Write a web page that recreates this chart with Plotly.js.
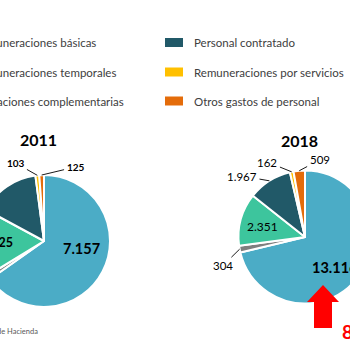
<!DOCTYPE html>
<html><head><meta charset="utf-8">
<script src="https://cdn.plot.ly/plotly-3.0.1.min.js"></script>
<style>
html,body{margin:0;padding:0;overflow:hidden;width:350px;height:350px;background:#fff}
#wrap{position:absolute;left:-35px;top:0;width:420px;height:350px}
</style>
</head><body><div id="wrap"></div>
<script>
// ---------- DATA ----------
const categories = ['Remuneraciones básicas','Remuneraciones temporales','Asignaciones complementarias',
                    'Personal contratado','Remuneraciones por servicios','Otros gastos de personal'];
const years = ['2011','2018'];
const values2011 = [7157, 110, 1825, 1650, 103, 125];
const values2018 = [13116, 304, 2351, 1967, 162, 509];
const sourceNote = 'Fuente: Dirección de Presupuestos, Ministerio de Hacienda';

// ---------- STYLE / LAYOUT ----------
const colors = ['#4BACC6','#7F7F7F','#3DC59D','#215968','#FFC000','#E46C0A'];
const OFF = 35, W = 420, H = 350;
const FONT = 'Lato, "Liberation Sans", sans-serif';
const pieGeom = [{cx:44, cy:241, r:66}, {cx:305, cy:237, r:66.5}];
const titlePos = [{x:38, y:139}, {x:299, y:141}];
// label style per pie per slice: mode in/out, k radial factor (in), dx/dy px offsets
const labelStyle = [
  [ {m:'in', k:0.6, dx:2, dy:-11, s:14.5, b:true},
    {m:'out', dx:-20, dy:14, s:10, b:true, a:true},
    {m:'in', k:0.8, dx:6, dy:0, s:12.5, b:true},
    {m:'out', dx:-40, dy:10, s:10, b:true, a:false},
    {m:'out', dx:-21.8, dy:-12.3, s:10, b:true, a:true},
    {m:'out', dx:33.9, dy:-8.1, s:10, b:true, a:true} ],
  [ {m:'in', k:0.6, dx:-1.3, dy:6.3, s:14.5, b:true},
    {m:'out', dx:-17.1, dy:16.8, s:11.5, b:false, a:true},
    {m:'in', k:0.6, dx:-4.5, dy:0.6, s:12, b:false},
    {m:'out', dx:-27.4, dy:-4.8, s:11.5, b:false, a:true},
    {m:'out', dx:-24.2, dy:-9.8, s:11.5, b:false, a:true},
    {m:'out', dx:20.3, dy:-10.8, s:11.5, b:false, a:true} ]
];

const X = px => (px + OFF) / W;
const Y = py => 1 - py / H;
const fmt = v => Math.round(v).toString().replace(/\B(?=(\d{3})+(?!\d))/g, '.');

const allValues = [values2011, values2018];
const traces = allValues.map((vals, p) => {
  const g = pieGeom[p];
  return {
    type:'pie', values: vals, labels: categories, sort:false, direction:'clockwise', rotation:0,
    marker:{colors: colors, line:{color:'#ffffff', width:2}},
    textinfo:'none', hoverinfo:'skip', showlegend:false,
    domain:{x:[X(g.cx-g.r), X(g.cx+g.r)], y:[Y(g.cy+g.r), Y(g.cy-g.r)]}
  };
});

const annotations = [];
const shapes = [];
allValues.forEach((vals, p) => {
  const g = pieGeom[p];
  const total = vals.reduce((a,b)=>a+b,0);
  let cum = 0;
  vals.forEach((v, i) => {
    const mid = (cum + v/2) / total * 2 * Math.PI;
    cum += v;
    const dx = Math.sin(mid), dy = -Math.cos(mid);
    const st = labelStyle[p][i];
    const font = {family: FONT, size: st.s, color:'#000', weight: st.b ? 700 : 400};
    if (st.m === 'in') {
      annotations.push({xref:'paper', yref:'paper', showarrow:false, text: fmt(v), font,
        x: X(g.cx + st.k*g.r*dx + st.dx), y: Y(g.cy + st.k*g.r*dy + st.dy),
        xanchor:'center', yanchor:'middle'});
    } else {
      const hx = g.cx + g.r*dx, hy = g.cy + g.r*dy;
      if (st.a) {
        annotations.push({xref:'paper', yref:'paper', text: fmt(v), font,
          x: X(hx), y: Y(hy), showarrow:true, ax: st.dx, ay: st.dy,
          arrowhead:0, arrowwidth:0.9, arrowcolor:'#000', standoff:0, startstandoff:1});
      } else {
        annotations.push({xref:'paper', yref:'paper', showarrow:false, text: fmt(v), font,
          x: X(hx + st.dx), y: Y(hy + st.dy), xanchor:'center', yanchor:'middle'});
      }
    }
  });
  annotations.push({xref:'paper', yref:'paper', showarrow:false, text: years[p],
    x: X(titlePos[p].x), y: Y(titlePos[p].y), xanchor:'center', yanchor:'middle',
    font:{family: FONT, size:16, color:'#000', weight:700}});
});

// legend (two columns, 3 rows)
const legRows = [42.5, 72, 101];
const legCols = [{sq:-57, tx:-28}, {sq:165, tx:192}];
const legTextShift = [0, 0, -5, 0, 0, 0];
categories.forEach((c, i) => {
  const col = legCols[Math.floor(i/3)], row = legRows[i%3];
  shapes.push({type:'rect', xref:'paper', yref:'paper', line:{width:0}, fillcolor: colors[i],
    x0: X(col.sq), x1: X(col.sq+18), y0: Y(row+4.5), y1: Y(row-4.5)});
  annotations.push({xref:'paper', yref:'paper', showarrow:false, text: c,
    x: X(col.tx + legTextShift[i]), y: Y(row), xanchor:'left', yanchor:'middle',
    font:{family: FONT, size:11.5, color:'#404040'}});
});

// source note
annotations.push({xref:'paper', yref:'paper', showarrow:false, text: sourceNote,
  x: X(40), y: Y(331), xanchor:'right', yanchor:'middle',
  font:{family: FONT, size:7.5, color:'#595959'}});

// red growth arrow and percentage
const pts = [[323,285],[339,302],[332,302],[332,328],[314,328],[314,302],[307,302]];
shapes.push({type:'path', xref:'paper', yref:'paper', fillcolor:'#FF0000', line:{width:0},
  path: 'M' + pts.map(q => X(q[0]) + ',' + Y(q[1])).join(' L') + ' Z'});
const growth = Math.round((values2018[0] / values2011[0] - 1) * 100);
annotations.push({xref:'paper', yref:'paper', showarrow:false, text: growth + '%',
  x: X(340), y: Y(331), xanchor:'left', yanchor:'middle',
  font:{family: FONT, size:19, color:'#FF0000', weight:700}});

Plotly.newPlot('wrap', traces, {
  width: W, height: H, margin:{l:0,r:0,t:0,b:0},
  paper_bgcolor:'#fff', showlegend:false,
  annotations, shapes
}, {staticPlot:true});
</script>
</body></html>
